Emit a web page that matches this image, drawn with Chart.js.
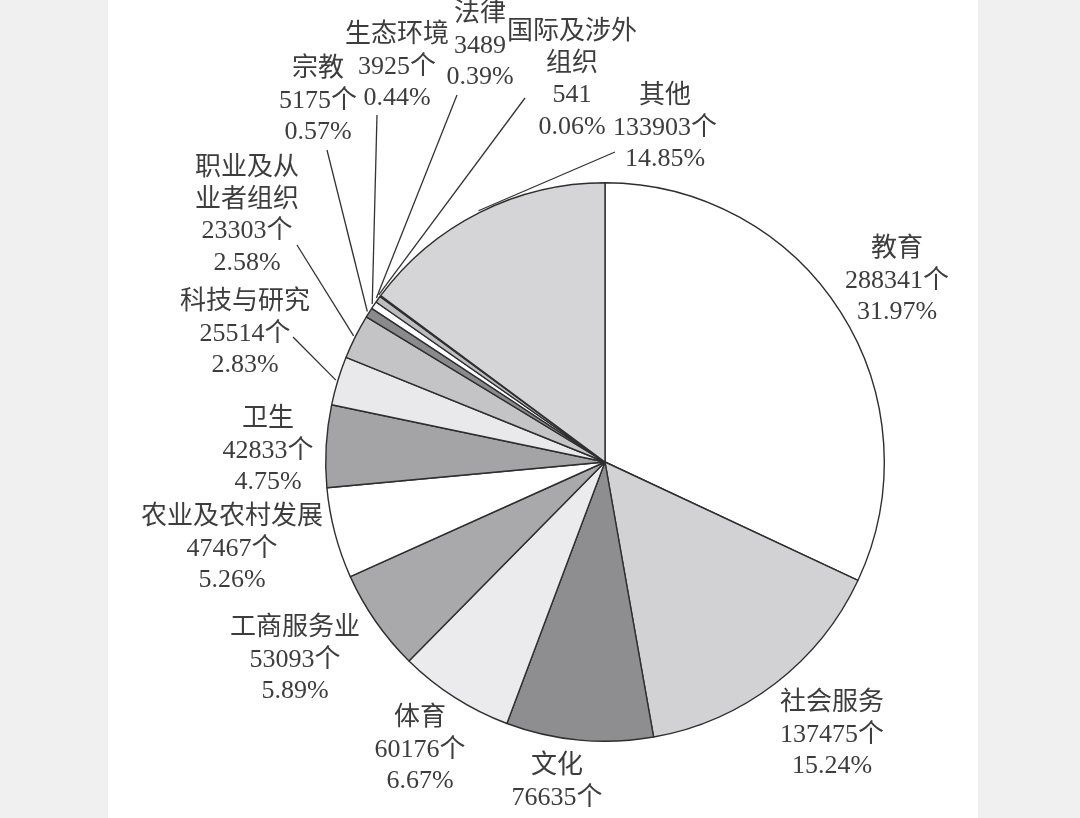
<!DOCTYPE html>
<html>
<head>
<meta charset="utf-8">
<script src="https://cdn.jsdelivr.net/npm/chart.js@4.4.1/dist/chart.umd.min.js"></script>
<style>
  html, body { margin: 0; padding: 0; width: 1080px; height: 818px; overflow: hidden; background: #f0f0f0; }
  #page { position: absolute; left: 108px; top: 0; width: 870px; height: 818px; background: #ffffff; }
  #c { position: absolute; left: 0; top: 0; }
</style>
</head>
<body>
<div id="page"></div>
<canvas id="c" width="1080" height="818"></canvas>
<script>
// ---- data ----
const categories = ['教育','社会服务','文化','体育','工商服务业','农业及农村发展','卫生','科技与研究','职业及从业者组织','宗教','生态环境','法律','国际及涉外组织','其他'];
const nameLines  = [['教育'],['社会服务'],['文化'],['体育'],['工商服务业'],['农业及农村发展'],['卫生'],['科技与研究'],['职业及从','业者组织'],['宗教'],['生态环境'],['法律'],['国际及涉外','组织'],['其他']];
const counts     = [288341, 137475, 76635, 60176, 53093, 47467, 42833, 25514, 23303, 5175, 3925, 3489, 541, 133903];
const countUnit  = ['个','个','个','个','个','个','个','个','个','个','个','','','个'];
const percents   = ['31.97%','15.24%','8.50%','6.67%','5.89%','5.26%','4.75%','2.83%','2.58%','0.57%','0.44%','0.39%','0.06%','14.85%'];

// ---- styles / layout (not data) ----
const fills = ['#ffffff','#d2d2d4','#8e8e90','#ebebed','#a9a9ab','#ffffff','#a4a4a6','#e9e9eb','#c4c4c6','#8a8a8c','#ffffff','#bdbdbf','#9a9a9c','#d5d5d7'];
// label centre x offset and first line y offset, relative to pie centre
const labelOffsets = [[292,-213],[227,241],[-48,304],[-185,256],[-310,166],[-373,55],[-337,-43],[-360,-160],[-358,-294],[-287,-393],[-208,-427],[-125,-448],[-33,-430],[60,-366]];
// leader line start offsets relative to pie centre (null = no leader)
const leaderStarts = [null,null,null,null,null,null,null,[-312,-125],[-308,-217],[-278,-312],[-228,-347],[-148,-367],[-80,-364],[10,-310]];
const LINE_H = 31.8;

const outLabels = {
  id: 'outLabels',
  afterDatasetsDraw(chart) {
    const ctx = chart.ctx;
    const meta = chart.getDatasetMeta(0);
    const arc0 = meta.data[0];
    const cx = arc0.x, cy = arc0.y;
    ctx.save();
    // leader lines
    ctx.strokeStyle = '#333333';
    ctx.lineWidth = 1.3;
    meta.data.forEach((arc, i) => {
      const s = leaderStarts[i];
      if (!s) return;
      const mid = (arc.startAngle + arc.endAngle) / 2;
      const r = arc.outerRadius + 2;
      ctx.beginPath();
      ctx.moveTo(cx + s[0], cy + s[1]);
      ctx.lineTo(cx + Math.cos(mid) * r, cy + Math.sin(mid) * r);
      ctx.stroke();
    });
    // text
    ctx.fillStyle = '#3d3d3d';
    ctx.font = '26px "Liberation Serif", "Noto Sans CJK SC", serif';
    ctx.textAlign = 'center';
    ctx.textBaseline = 'middle';
    categories.forEach((c, i) => {
      const lines = nameLines[i].concat([String(counts[i]) + countUnit[i], percents[i]]);
      const o = labelOffsets[i];
      lines.forEach((t, k) => {
        ctx.fillText(t, cx + o[0], cy + o[1] + k * LINE_H);
      });
    });
    ctx.restore();
  }
};

new Chart(document.getElementById('c'), {
  type: 'pie',
  data: {
    labels: categories,
    datasets: [{
      data: counts,
      backgroundColor: fills,
      borderColor: '#2e2e2e',
      borderWidth: 1.4
    }]
  },
  options: {
    responsive: false,
    animation: false,
    layout: { padding: { left: 325, right: 195, top: 182, bottom: 76 } },
    plugins: { legend: { display: false }, tooltip: { enabled: false } }
  },
  plugins: [outLabels]
});
</script>
</body>
</html>
